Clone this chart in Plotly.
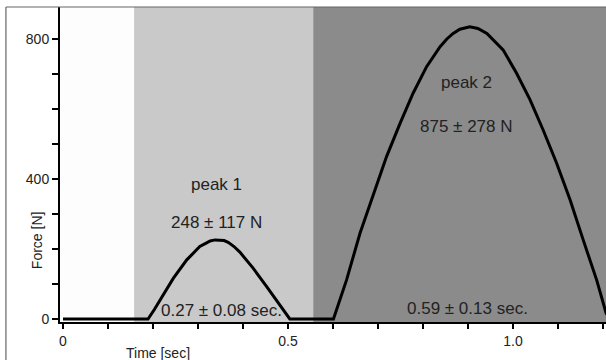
import plotly.graph_objects as go

# ---- data ----
time_s = [0.0, 0.189, 0.203, 0.216, 0.245, 0.275, 0.304, 0.317, 0.327, 0.338, 0.349,
          0.358, 0.367, 0.380, 0.393, 0.422, 0.453, 0.482, 0.494, 0.504, 0.601,
          0.630, 0.660, 0.690, 0.719, 0.749, 0.778, 0.808, 0.838, 0.853, 0.867,
          0.882, 0.897, 0.904, 0.922, 0.942, 0.978, 1.008, 1.038, 1.067, 1.097,
          1.127, 1.156, 1.186, 1.207, 1.215]
force_n = [0, 0, 27, 54, 116, 169, 207, 216, 223, 226, 226,
           224, 219, 207, 191, 146, 92, 40, 18, 0, 0,
           111, 245, 359, 464, 559, 645, 721, 778, 800, 816,
           828, 834, 835, 830, 816, 769, 702, 626, 540, 445,
           340, 226, 111, 17, 0]

phase_starts = [0.158, 0.556]
phase_ends = [0.556, 1.30]
phase_colors = ["#c9c9c9", "#8b8b8b"]

label_texts = ["peak 1", "248 ± 117 N", "0.27 ± 0.08 sec.",
               "peak 2", "875 ± 278 N", "0.59 ± 0.13 sec."]
label_t = [0.342, 0.342, 0.353, 0.896, 0.896, 0.898]
label_f = [383, 277, 23, 677, 551, 31]

x_tickvals = [0.0, 0.1, 0.2, 0.3, 0.4, 0.5, 0.6, 0.7, 0.8, 0.9, 1.0, 1.1, 1.2]
x_ticktext = ["0", "", "", "", "", "0.5", "", "", "", "", "1.0", "", ""]
y_tickvals = [0, 100, 200, 300, 400, 500, 600, 700, 800]
y_ticktext = ["0", "", "", "", "400", "", "", "", "800"]

FONT = "Liberation Sans, Arial, Helvetica, sans-serif"

fig = go.Figure()
fig.add_trace(go.Scatter(
    x=time_s, y=force_n, mode="lines",
    line=dict(color="black", width=3),
    hoverinfo="skip", showlegend=False))

for x0, x1, c in zip(phase_starts, phase_ends, phase_colors):
    fig.add_shape(type="rect", xref="x", yref="paper", x0=x0, x1=x1, y0=0, y1=1,
                  fillcolor=c, line=dict(width=0), layer="below")

for t, f, s in zip(label_t, label_f, label_texts):
    fig.add_annotation(x=t, y=f, xref="x", yref="y", text=s, showarrow=False,
                       xanchor="center", yanchor="middle",
                       font=dict(family=FONT, size=17, color="#222"))

# axis titles
fig.add_annotation(xref="paper", yref="paper", x=-0.042, y=0.26, text="Force [N]",
                   textangle=-90, showarrow=False, xanchor="center", yanchor="middle",
                   font=dict(family=FONT, size=14, color="#222"))
fig.add_annotation(xref="paper", yref="paper", x=0.1786, y=-0.098, text="Time [sec]",
                   showarrow=False, xanchor="center", yanchor="middle",
                   font=dict(family=FONT, size=14, color="#222"))

# outer frame (left and top edges)
fig.add_shape(type="line", xref="paper", yref="paper", x0=-0.099, x1=-0.099,
              y0=1, y1=-0.2, line=dict(color="#666", width=1.2))
fig.add_shape(type="line", xref="paper", yref="paper", x0=-0.099, x1=1.0,
              y0=1, y1=1, line=dict(color="#666", width=1.2))

fig.update_layout(
    width=606, height=360,
    margin=dict(l=60, r=0, t=7, b=38),
    paper_bgcolor="white", plot_bgcolor="#fdfdfd",
    font=dict(family=FONT, size=14, color="#222"),
    xaxis=dict(range=[-0.0067, 1.2067], showgrid=False, zeroline=False,
               showline=True, linecolor="black", linewidth=2,
               ticks="outside", ticklen=5, tickwidth=1.5, tickcolor="black",
               tickvals=x_tickvals, ticktext=x_ticktext,
               tickfont=dict(size=14, color="#222")),
    yaxis=dict(range=[-8.6, 891.4], showgrid=False, zeroline=False,
               showline=True, linecolor="black", linewidth=2,
               ticks="outside", ticklen=6, tickwidth=1.5, tickcolor="black",
               tickvals=y_tickvals, ticktext=y_ticktext,
               tickfont=dict(size=14, color="#222")),
)

fig.write_html("out.html", config={"displayModeBar": False},
               post_script="document.body.style.margin='0';document.body.style.padding='0';")
